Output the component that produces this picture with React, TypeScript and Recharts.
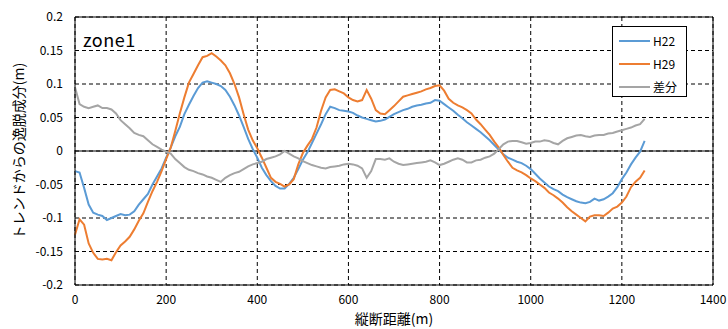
import React from "react";
import {
  CartesianGrid,
  Legend,
  Line,
  LineChart,
  ReferenceLine,
  XAxis,
  YAxis,
} from "recharts";

const FONT = '"Noto Sans CJK JP", "Noto Sans", sans-serif';

const SERIES_NAMES = ["H22", "H29", "差分"];
const COLORS = ["#5B9BD5", "#ED7D31", "#A5A5A5"];

const X_TICKS = [0, 200, 400, 600, 800, 1000, 1200, 1400];
const Y_TICKS = [-0.2, -0.15, -0.1, -0.05, 0, 0.05, 0.1, 0.15, 0.2];

// 測点 0m〜1250m、10m間隔
const START_M = 0;
const STEP_M = 10;

const h22 = [
  -0.03, -0.032, -0.055, -0.08, -0.092, -0.095, -0.097, -0.103, -0.1, -0.097,
  -0.094, -0.096, -0.095, -0.09, -0.08, -0.072, -0.064, -0.05, -0.038, -0.026,
  -0.01, 0.005, 0.022, 0.036, 0.055, 0.069, 0.082, 0.094, 0.102, 0.104,
  0.102, 0.1, 0.097, 0.091, 0.081, 0.068, 0.053, 0.036, 0.018, 0.003,
  -0.01, -0.025, -0.036, -0.045, -0.052, -0.056, -0.056, -0.049, -0.04, -0.027,
  -0.013, -0.002, 0.012, 0.026, 0.04, 0.055, 0.066, 0.064, 0.061, 0.06,
  0.059, 0.057, 0.053, 0.05, 0.048, 0.046, 0.044, 0.045, 0.047, 0.051,
  0.055, 0.058, 0.061, 0.063, 0.066, 0.068, 0.069, 0.071, 0.072, 0.076,
  0.075, 0.07, 0.065, 0.06, 0.054, 0.049, 0.043, 0.038, 0.033, 0.028,
  0.022, 0.016, 0.009, 0.002, -0.005, -0.01, -0.013, -0.016, -0.018, -0.022,
  -0.027, -0.034, -0.041, -0.047, -0.053, -0.057, -0.06, -0.065, -0.069, -0.072,
  -0.075, -0.077, -0.078, -0.076, -0.071, -0.074, -0.072, -0.068, -0.063, -0.054,
  -0.042, -0.032, -0.02, -0.01, -0.001, 0.015,
];

const h29 = [
  -0.125, -0.102, -0.11, -0.138, -0.152, -0.161, -0.162, -0.161, -0.163, -0.151,
  -0.141, -0.135, -0.128, -0.117, -0.104, -0.093, -0.076, -0.06, -0.046, -0.03,
  -0.012, 0.005, 0.03, 0.056, 0.08, 0.102, 0.115, 0.128, 0.14, 0.142,
  0.146, 0.141, 0.135, 0.128, 0.116, 0.1, 0.08, 0.055, 0.032, 0.016,
  0.004, -0.01, -0.025, -0.04, -0.046, -0.049, -0.053, -0.05, -0.042, -0.02,
  -0.003, 0.008, 0.018, 0.035, 0.06, 0.08, 0.091, 0.092, 0.089, 0.086,
  0.08, 0.076, 0.074, 0.076, 0.091, 0.078, 0.061, 0.056, 0.055, 0.061,
  0.067, 0.074, 0.081, 0.083, 0.085, 0.087, 0.089, 0.092, 0.094, 0.097,
  0.098, 0.09, 0.078, 0.072, 0.068, 0.065, 0.061, 0.056, 0.047, 0.04,
  0.032, 0.024, 0.014, 0.005, -0.006, -0.016, -0.025, -0.029, -0.032, -0.036,
  -0.041, -0.045, -0.05, -0.055, -0.062, -0.066, -0.071, -0.077, -0.084, -0.09,
  -0.095, -0.1, -0.105, -0.098, -0.096, -0.096, -0.097, -0.092, -0.086, -0.083,
  -0.077, -0.068, -0.054, -0.046, -0.04, -0.029,
];

const diff = [
  0.095, 0.07, 0.066, 0.064, 0.066, 0.068, 0.064, 0.064, 0.062, 0.056,
  0.046, 0.04, 0.034, 0.027, 0.024, 0.022, 0.016, 0.01, 0.006, 0.002,
  -0.001, -0.004, -0.012, -0.018, -0.024, -0.028, -0.03, -0.033, -0.035, -0.038,
  -0.04, -0.043, -0.046, -0.04, -0.036, -0.033, -0.031, -0.027, -0.023, -0.02,
  -0.018, -0.016, -0.012, -0.01, -0.008, -0.005, 0.0, -0.004, -0.008, -0.011,
  -0.015, -0.018, -0.021, -0.023, -0.025, -0.026, -0.024, -0.023, -0.022, -0.02,
  -0.019, -0.02, -0.022, -0.026, -0.04, -0.03, -0.012, -0.012, -0.013, -0.011,
  -0.016, -0.019, -0.021, -0.02, -0.019, -0.018, -0.017, -0.016, -0.014, -0.017,
  -0.021, -0.019, -0.016, -0.013, -0.011, -0.013, -0.017, -0.017, -0.014, -0.013,
  -0.01, -0.008, -0.004, 0.003, 0.01, 0.014, 0.015, 0.015, 0.013, 0.011,
  0.012, 0.014, 0.014, 0.016, 0.015, 0.012, 0.01, 0.015, 0.019, 0.021,
  0.023, 0.024, 0.022, 0.021, 0.023, 0.024, 0.024, 0.026, 0.027, 0.029,
  0.031, 0.033, 0.035, 0.038, 0.04, 0.048,
];

const data = h22.map((v, i) => ({
  dist: START_M + i * STEP_M,
  H22: v,
  H29: h29[i],
  差分: diff[i],
}));

function LegendBox({ payload }: any) {
  return (
    <div
      style={{
        width: 75,
        height: 71,
        boxSizing: "border-box",
        border: "1px solid #000",
        background: "#fff",
        paddingTop: 2,
        fontFamily: FONT,
        fontSize: 12,
        color: "#000",
      }}
    >
      {(payload || []).map((p: any) => (
        <div
          key={p.value}
          style={{ display: "flex", alignItems: "center", height: 23 }}
        >
          <svg width={38} height={4} style={{ marginLeft: 6 }}>
            <line x1={0} y1={2} x2={31} y2={2} stroke={p.color} strokeWidth={2} />
          </svg>
          <span style={{ marginLeft: -4 }}>{p.value}</span>
        </div>
      ))}
    </div>
  );
}

export default function App() {
  return (
    <div style={{ position: "relative", width: 728, height: 329, background: "#fff" }}>
      <style>{"body{margin:0}"}</style>
      <LineChart
        width={728}
        height={329}
        data={data}
        margin={{ top: 17, right: 15, bottom: 0, left: 0 }}
      >
        <CartesianGrid stroke="#000" strokeDasharray="4 3" />
        <XAxis
          dataKey="dist"
          type="number"
          domain={[0, 1400]}
          ticks={X_TICKS}
          height={44}
          stroke="#000"
          tickLine={false}
          tickSize={0}
          tickMargin={10}
          tick={{ fill: "#000", fontSize: 12, fontFamily: FONT }}
          label={{
            value: "縦断距離(m)",
            position: "inside",
            dy: 12,
            fill: "#000",
            fontSize: 14,
            fontFamily: FONT,
          }}
        />
        <YAxis
          type="number"
          domain={[-0.2, 0.2]}
          ticks={Y_TICKS}
          width={75}
          stroke="#000"
          tickLine={false}
          tickSize={0}
          tickMargin={12}
          interval={0}
          tick={{ fill: "#000", fontSize: 12, fontFamily: FONT }}
          label={{
            value: "トレンドからの逸脱成分(m)",
            angle: -90,
            position: "inside",
            dx: -18,
            fill: "#000",
            fontSize: 14,
            fontFamily: FONT,
          }}
        />
        <ReferenceLine y={0} stroke="#000" strokeWidth={1} />
        <ReferenceLine y={0.2} stroke="#000" strokeWidth={1} />
        <ReferenceLine x={1400} stroke="#000" strokeWidth={1} />
        {SERIES_NAMES.map((name, i) => (
          <Line
            key={name}
            type="linear"
            dataKey={name}
            name={name}
            stroke={COLORS[i]}
            strokeWidth={2}
            dot={false}
            isAnimationActive={false}
          />
        ))}
        <Legend
          layout="horizontal"
          align="center"
          verticalAlign="middle"
          content={<LegendBox />}
          wrapperStyle={{ left: 612, top: 26, width: 75, height: 71 }}
        />
      </LineChart>
      <div
        style={{
          position: "absolute",
          left: 83,
          top: 26,
          fontFamily: FONT,
          fontSize: 18,
          letterSpacing: 0.5,
          color: "#000",
        }}
      >
        zone1
      </div>
    </div>
  );
}
